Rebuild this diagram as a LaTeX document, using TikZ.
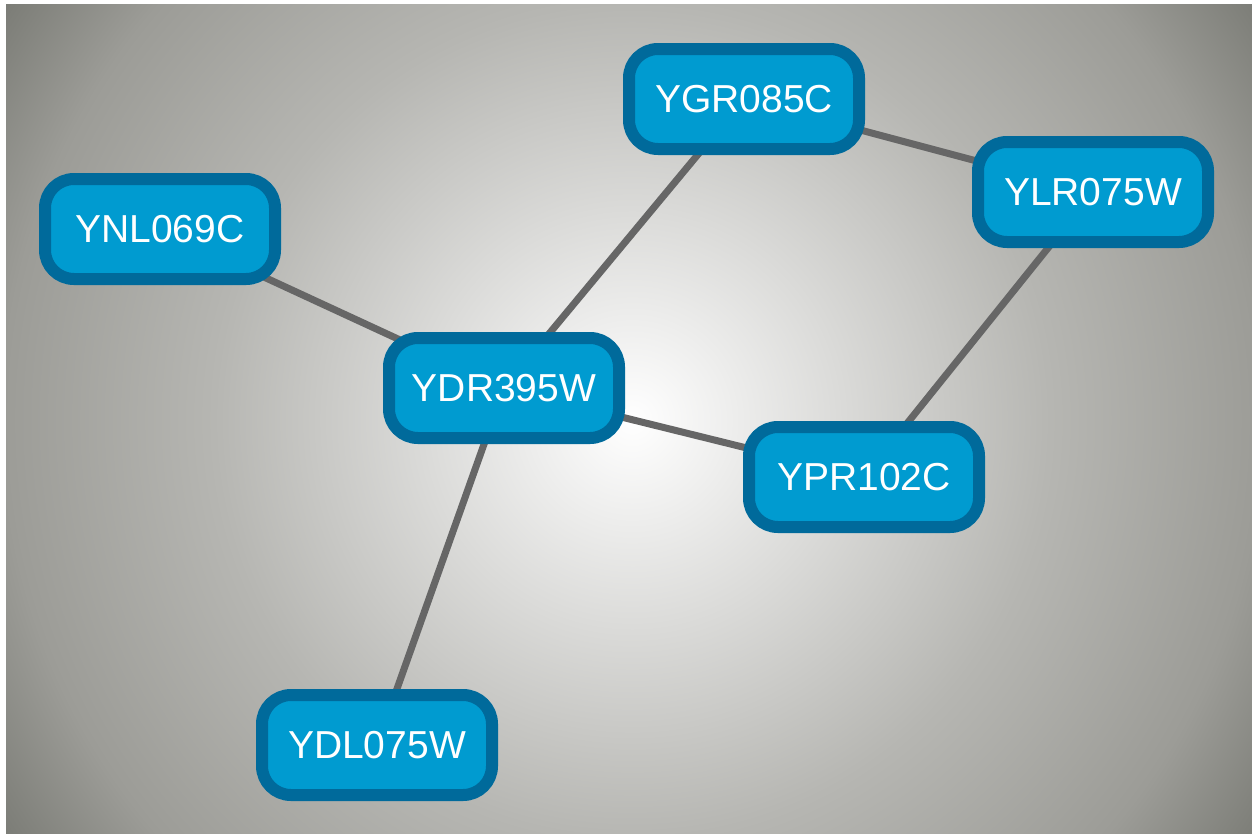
\documentclass[tikz,border=0pt]{standalone}
\usepackage{fontspec}
\setmainfont{Liberation Sans}
\definecolor{bgA}{RGB}{182,182,178}
\definecolor{bgB}{RGB}{156,156,151}
\definecolor{bgC}{RGB}{124,125,119}
\definecolor{nodefill}{RGB}{0,155,208}
\definecolor{nodeline}{RGB}{0,106,155}
\definecolor{edgecol}{RGB}{102,102,102}
\pgfdeclareradialshading{bgshade}{\pgfpoint{0bp}{0bp}}{%
  color(0bp)=(white);
  color(13.75bp)=(bgA);
  color(20.7bp)=(bgB);
  color(24.65bp)=(bgC);
  color(50bp)=(bgC)}
\pgfdeclarelayer{back}
\pgfdeclarelayer{edges}
\pgfsetlayers{back,edges,main}
\tikzset{
  gene/.style={draw=nodeline, fill=nodefill, line width=12pt, rounded corners=29pt,
    minimum width=230pt, minimum height=100pt, inner sep=0pt,
    text=white, font=\fontsize{39}{45}\selectfont},
  link/.style={draw=edgecol, line width=7pt}
}
\begin{document}
\begin{tikzpicture}[x=1pt,y=-1pt]
\begin{pgfonlayer}{back}
\fill[white] (0,0) rectangle (1252,833);
\begin{scope}
\clip (6,4) rectangle (1252,833);
\shade[shading=bgshade] (632,420) circle (760);
\end{scope}
\end{pgfonlayer}
\useasboundingbox (0,0) rectangle (1252,833);
\node[gene] (ynl) at (160,229) {YNL069C};
\node[gene] (ydr) at (504,388) {YDR395W};
\node[gene] (ygr) at (744,99) {YGR085C};
\node[gene] (ylr) at (1093,192) {YLR075W};
\node[gene] (ypr) at (864,477) {YPR102C};
\node[gene] (ydl) at (377,745) {YDL075W};
\begin{pgfonlayer}{edges}
\draw[link] (ynl.center) -- (ydr.center);
\draw[link] (ydr.center) -- (ygr.center);
\draw[link] (ygr.center) -- (ylr.center);
\draw[link] (ylr.center) -- (ypr.center);
\draw[link] (ydr.center) -- (ypr.center);
\draw[link] (ydr.center) -- (ydl.center);
\end{pgfonlayer}
\end{tikzpicture}
\end{document}
